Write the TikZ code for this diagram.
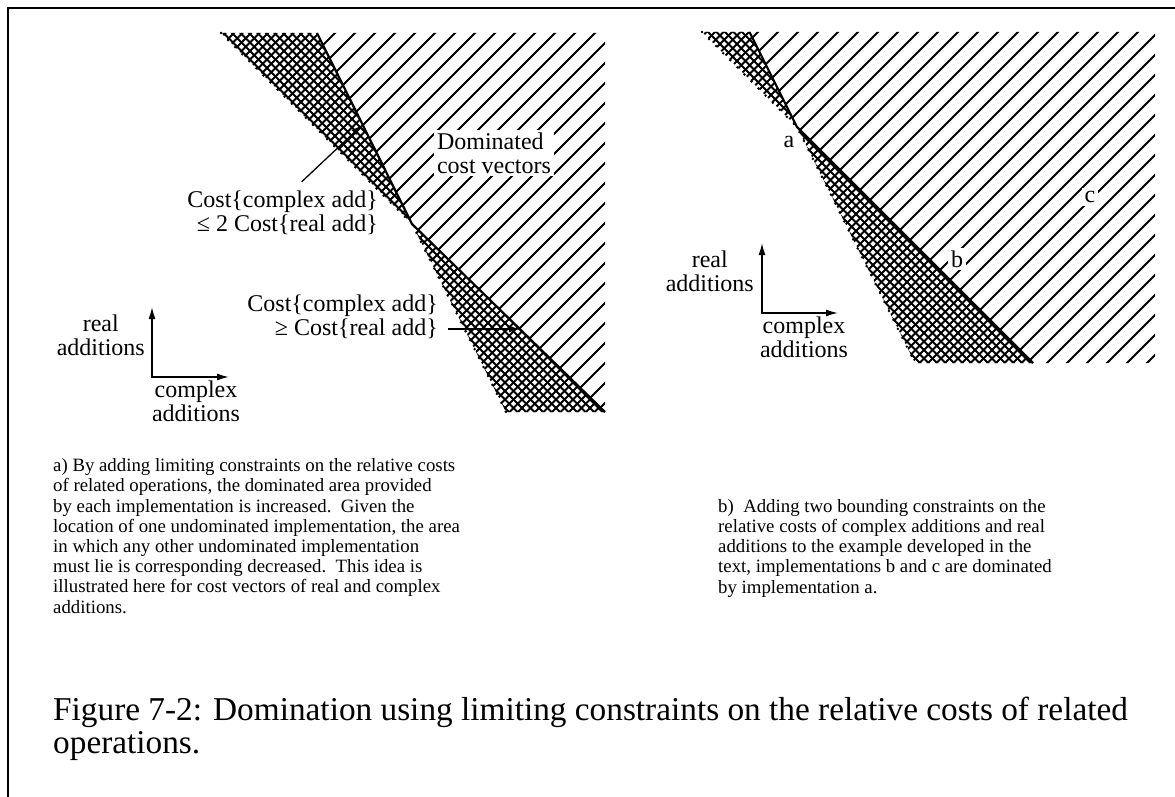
\documentclass[tikz,border=0pt]{standalone}
\usepackage{fontspec}
\setmainfont{Liberation Serif}
\usetikzlibrary{arrows.meta,calc}
\begin{document}
\begin{tikzpicture}[x=1pt,y=-1pt,
  hatchline/.style={line width=1.9pt},
  xhatchline/.style={line width=1.8pt},
  boundline/.style={line width=2.2pt},
  lbl/.style={font=\fontsize{24}{24}\selectfont, inner sep=1pt},
  wlbl/.style={lbl, fill=white, inner sep=3pt},
  captext/.style={font=\fontsize{18.8}{20.2}\selectfont, align=left, inner sep=0pt, anchor=base west},
  bigcaptext/.style={font=\fontsize{33.3}{33}\selectfont, align=left, inner sep=0pt, anchor=base west},
  arr/.style={line width=1.3pt, -{Latex[length=11pt,width=7pt]}},
  axisline/.style={line width=1.5pt, {Latex[length=12pt,width=7pt]}-{Latex[length=12pt,width=7pt]}},
  scallop/.style={line width=2.8pt, dash pattern=on 0pt off 10pt, line cap=round},
  frameline/.style={line width=2.4pt},
]
\useasboundingbox (0,0) rectangle (1175,797);
\fill[white] (0,0) rectangle (1175,797);
\draw[frameline] (8,797) -- (8,8) -- (1175,8);

% ---------------- panel a ----------------
\coordinate (Ka) at (412,224);
\coordinate (Asteep) at (317,33);
\coordinate (Aleft) at (221,33);
\coordinate (Atr) at (605,33);
\coordinate (Abr) at (605,412);
\coordinate (Abl) at (506,412);
\begin{scope}
  \clip (Asteep) -- (Atr) -- (Abr) -- (Ka) -- cycle;
  \foreach \c in {308,328,...,1048} \draw[hatchline] (\c-600,600) -- (\c+50,-50);
\end{scope}
\begin{scope}
  \clip (Aleft) -- (Asteep) -- (Ka) -- cycle (Ka) -- (Abr) -- (Abl) -- cycle;
  \foreach \c in {250,258.5,...,1030} \draw[xhatchline] (\c-600,600) -- (\c+50,-50);
  \foreach \d in {80,88.5,...,300} \draw[xhatchline] (\d-50,-50) -- (\d+600,600);
\end{scope}
\draw[scallop] (Aleft) -- (Ka) -- (Abl);
\draw[boundline] (Asteep) -- (Ka) -- (Abr);

\node[wlbl, align=left] (dom) at (494,153) {Dominated\\cost vectors};
\node[lbl, align=right, anchor=east] (le) at (379,213) {Cost\{complex add\}\\≤ 2 Cost\{real add\}};
\coordinate (letip) at (362,125);
\draw[arr] ([xshift=19pt,yshift=8pt]le.north) -- (letip);
\node[lbl, align=right, anchor=east] (ge) at (439,317) {Cost\{complex add\}\\≥ Cost\{real add\}};
\coordinate (getip) at (520,329);
\draw[arr] ($(ge.east |- getip)+(9,0)$) -- (getip);

\coordinate (Ao) at (152,377);
\coordinate (Ay) at (152,307);
\coordinate (Ax) at (229,377);
\draw[axisline] (Ay) -- (Ao) -- (Ax);
\node[lbl, align=center, anchor=east] (ayla) at (146,335) {real\\additions};
\node[lbl, align=center, anchor=north] (axla) at (196,380) {complex\\additions};

% ---------------- panel b ----------------
\coordinate (Kb) at (797,127);
\coordinate (Bsteep) at (749.5,32);
\coordinate (Bleft) at (702,32);
\coordinate (Btr) at (1155,32);
\coordinate (Bbr) at (1155,363);
\coordinate (Bslope) at (1033,363);
\coordinate (Bbl) at (915,363);
\begin{scope}
  \clip (Bsteep) -- (Btr) -- (Bbr) -- (Bslope) -- (Kb) -- cycle;
  \foreach \c in {770,790,...,1530} \draw[hatchline] (\c-600,600) -- (\c+50,-50);
\end{scope}
\begin{scope}
  \clip (Bleft) -- (Bsteep) -- (Kb) -- cycle (Kb) -- (Bslope) -- (Bbl) -- cycle;
  \foreach \c in {730,738.5,...,1400} \draw[xhatchline] (\c-600,600) -- (\c+50,-50);
  \foreach \d in {540,548.5,...,730} \draw[xhatchline] (\d-50,-50) -- (\d+600,600);
\end{scope}
\draw[scallop] (Bleft) -- (Kb) -- (Bbl);
\draw[boundline] (Bsteep) -- (Kb) -- (Bslope);

\node[lbl] (pa) at (789,142) {a};
\node[wlbl] (pb) at (957,259) {b};
\node[wlbl] (pc) at (1090,197) {c};

\coordinate (Bo) at (762,313);
\coordinate (By) at (762,243);
\coordinate (Bx) at (838,313);
\draw[axisline] (By) -- (Bo) -- (Bx);
\node[lbl, align=center, anchor=east] (ayl) at (755,271) {real\\additions};
\node[lbl, align=center, anchor=north] (axl) at (804,316) {complex\\additions};

% ---------------- captions ----------------
\node[captext] (capa) at (53,613) {a) By adding limiting constraints on the relative costs\\
of related operations, the dominated area provided\\
by each implementation is increased.\ \ Given the\\
location of one undominated implementation, the area\\
in which any other undominated implementation\\
must lie is corresponding decreased.\ \ This idea is\\
illustrated here for cost vectors of real and complex\\
additions.};
\node[captext] (capb) at (718,593) {b)\ \ Adding two bounding constraints on the\\
relative costs of complex additions and real\\
additions to the example developed in the\\
text, implementations b and c are dominated\\
by implementation a.};
\node[bigcaptext] (fig) at (53,753) {Figure 7-2: Domination using limiting constraints on the relative costs of related\\
operations.};
\end{tikzpicture}
\end{document}
